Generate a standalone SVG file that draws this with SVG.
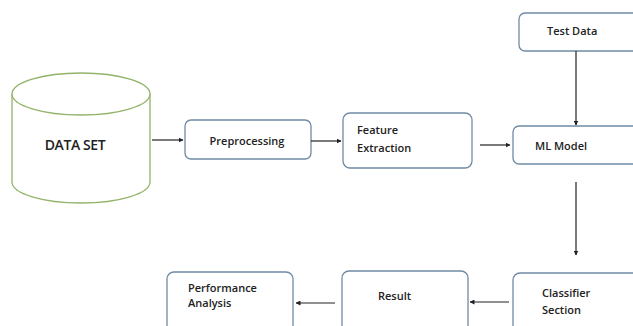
<svg xmlns="http://www.w3.org/2000/svg" width="633" height="326" viewBox="0 0 633 326">
<style>
.box{fill:#fff;stroke:#6f8aa6;stroke-width:1.3}
.cyl{fill:#fff;stroke:#93b36a;stroke-width:1.3}
.t{font-family:"Open Sans","DejaVu Sans",sans-serif;font-weight:600;font-size:11px;fill:#222}
.big{font-size:14px;letter-spacing:-0.4px}
.c{stroke:#222;stroke-width:1.2;fill:none}
</style>
<defs>
<marker id="ah" viewBox="0 0 10 10" refX="9" refY="5" markerWidth="5" markerHeight="5" orient="auto" markerUnits="userSpaceOnUse">
<path d="M0,0 L10,5 L0,10 z" fill="#222"/>
</marker>
</defs>
<rect width="633" height="326" fill="#fff"/>
<g id="dataset">
<path class="cyl" d="M12,94 L12,182 A69,21 0 0 0 150,182 L150,94"/>
<ellipse class="cyl" cx="81" cy="94" rx="69" ry="21"/>
<text class="t big" x="75" y="150" text-anchor="middle">DATA SET</text>
</g>
<g id="preprocessing">
<rect class="box" x="185" y="120" width="126" height="39" rx="6"/>
<text class="t" x="247" y="145" text-anchor="middle">Preprocessing</text>
</g>
<g id="feature">
<rect class="box" x="343" y="113" width="129" height="55" rx="7"/>
<text class="t" x="357" y="134">Feature</text>
<text class="t" x="357" y="152">Extraction</text>
</g>
<g id="testdata">
<rect class="box" x="519" y="13" width="130" height="38" rx="6"/>
<text class="t" x="547" y="35">Test Data</text>
</g>
<g id="mlmodel">
<rect class="box" x="513" y="126" width="136" height="38" rx="6"/>
<text class="t" x="535" y="150">ML Model</text>
</g>
<g id="classifier">
<rect class="box" x="513" y="273" width="136" height="70" rx="7"/>
<text class="t" x="542" y="297">Classifier</text>
<text class="t" x="542" y="314">Section</text>
</g>
<g id="result">
<rect class="box" x="342" y="271" width="126" height="70" rx="7"/>
<text class="t" x="378" y="300">Result</text>
</g>
<g id="performance">
<rect class="box" x="167" y="272" width="126" height="70" rx="7"/>
<text class="t" x="188" y="292">Performance</text>
<text class="t" x="188" y="307">Analysis</text>
</g>
<g id="connectors">
<line class="c" x1="152" y1="140" x2="183" y2="140" marker-end="url(#ah)"/>
<line class="c" x1="311" y1="141" x2="341" y2="141" marker-end="url(#ah)"/>
<line class="c" x1="480" y1="145" x2="510" y2="145" marker-end="url(#ah)"/>
<line class="c" x1="576" y1="51" x2="576" y2="125" marker-end="url(#ah)"/>
<line class="c" x1="576" y1="182" x2="576" y2="255" marker-end="url(#ah)"/>
<line class="c" x1="509" y1="302" x2="470" y2="302" marker-end="url(#ah)"/>
<line class="c" x1="335" y1="303" x2="296" y2="303" marker-end="url(#ah)"/>
</g>
</svg>
